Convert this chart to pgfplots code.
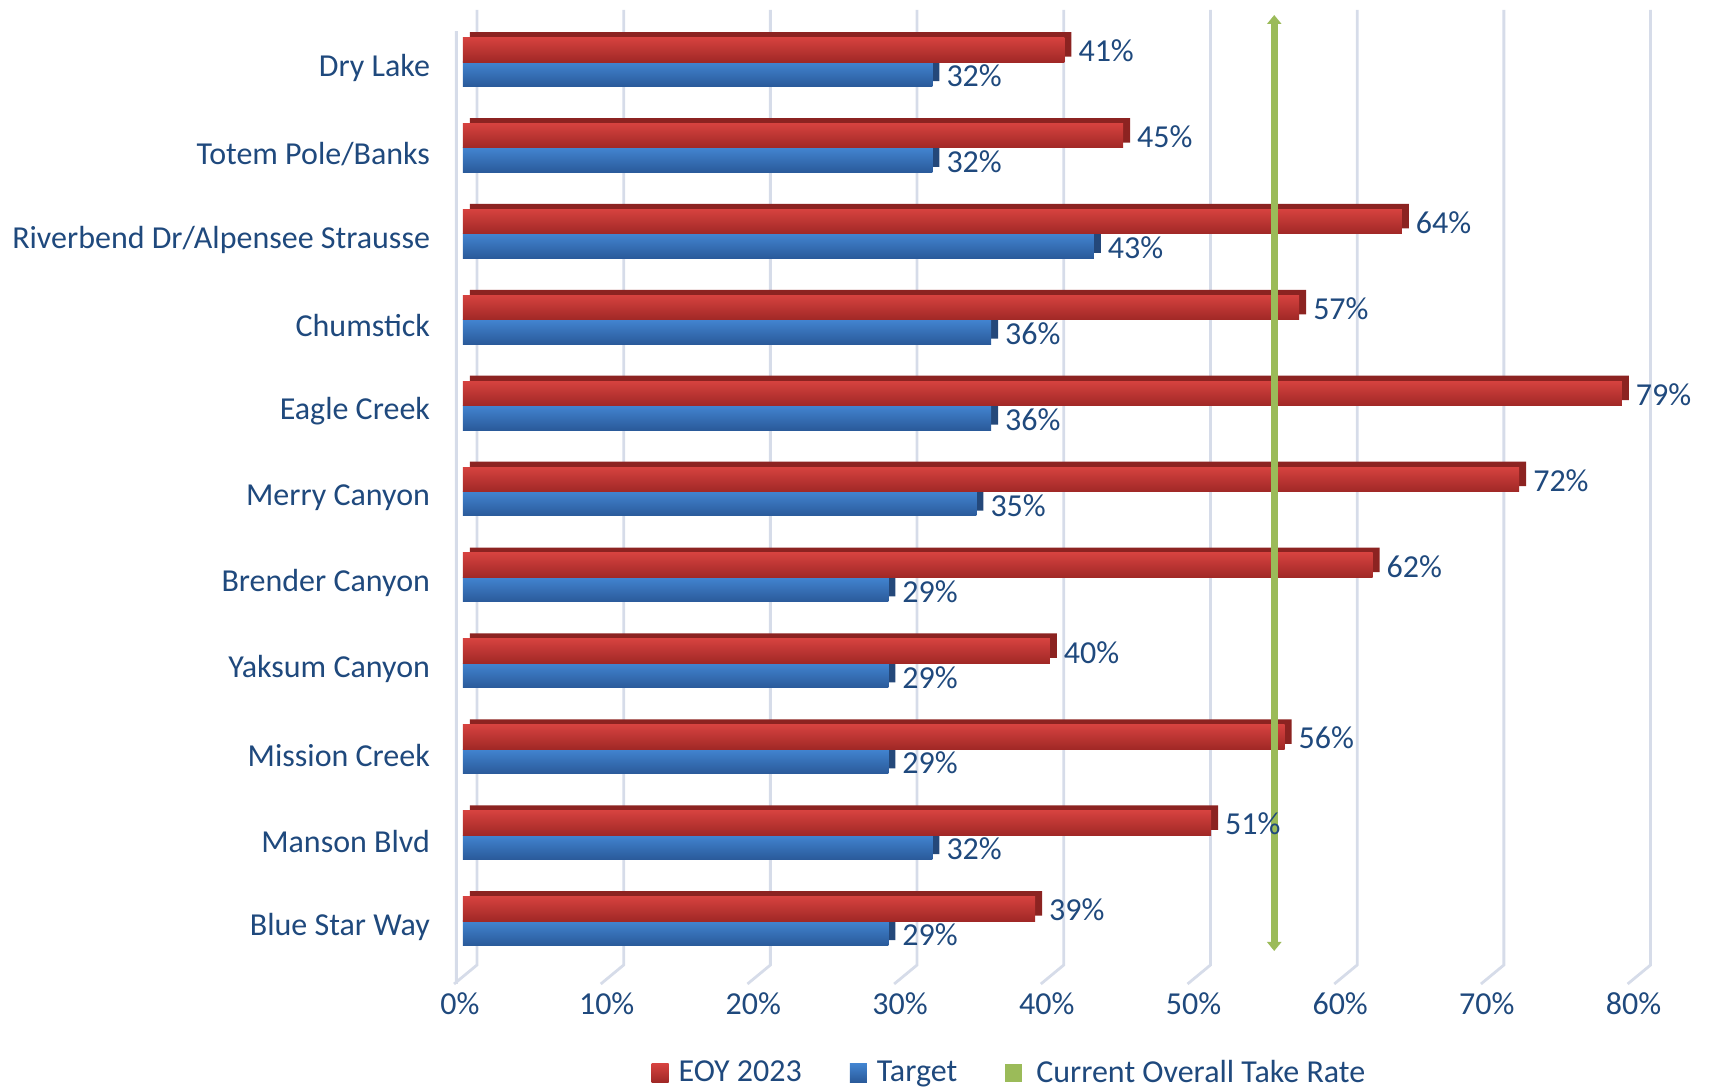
\documentclass[border=0pt]{standalone}
\usepackage{pgfplots}
\pgfplotsset{compat=1.18}
\usepackage{pgfplotstable}
\usepackage{fontspec}
\setmainfont{Carlito}
\usetikzlibrary{arrows.meta}

\definecolor{txt}{RGB}{31,73,125}
\definecolor{redtop}{RGB}{214,66,63}
\definecolor{redbot}{RGB}{160,40,38}
\definecolor{reddepth}{RGB}{140,35,33}
\definecolor{bluetop}{RGB}{66,132,208}
\definecolor{bluebot}{RGB}{42,90,154}
\definecolor{bluedepth}{RGB}{36,72,122}
\definecolor{gridc}{RGB}{214,220,233}
\definecolor{takegreen}{RGB}{155,187,89}

% k = 0 is the bottom row (Blue Star Way)
\pgfplotstableread{
k eoy target
0 39 29
1 51 32
2 56 29
3 40 29
4 62 29
5 72 35
6 79 36
7 57 36
8 64 43
9 45 32
10 41 32
}\rates

\newcommand{\lbl}{\fontsize{16}{19}\selectfont}

\begin{document}
\begin{tikzpicture}
\path[use as bounding box] (0,0) rectangle (854.5pt,544pt);
\begin{axis}[
    at={(231.5pt,61.5pt)}, anchor=south west,
    scale only axis,
    width=586.8pt, height=477.5pt,
    xmin=0, xmax=80,
    ymin=-0.512, ymax=10.605,
    clip=false,
    axis line style={draw=none},
    major tick length=0pt,
    /pgf/number format/assume math mode=true,
    xtick={0,10,...,80},
    xticklabels={0\%,10\%,20\%,30\%,40\%,50\%,60\%,70\%,80\%},
    ytick={0,...,10},
    yticklabels={Blue Star Way, Manson Blvd, Mission Creek, Yaksum Canyon,
        Brender Canyon, Merry Canyon, Eagle Creek, Chumstick,
        Riverbend Dr/Alpensee Strausse, Totem Pole/Banks, Dry Lake},
    ticklabel style={font=\lbl, text=txt},
    xticklabel style={anchor=center, yshift=-19.3pt, xshift=-1.5pt},
    yticklabel style={anchor=east, xshift=-13pt, yshift=-3pt},
    legend style={
        at={(0.4665,-0.113)}, anchor=center,
        draw=none, fill=none,
        legend columns=3,
        font=\lbl, text=txt,
        /tikz/every even column/.append style={column sep=22pt}
    },
]

% back wall grid lines with the floor edge
\addplot[gridc, line width=1.4pt, unbounded coords=jump, forget plot] coordinates {
    (0.954,10.605) (0.954,-0.512) (-0.61,-0.733) (0,nan)
    (10.954,10.605) (10.954,-0.512) (9.39,-0.733) (0,nan)
    (20.954,10.605) (20.954,-0.512) (19.39,-0.733) (0,nan)
    (30.954,10.605) (30.954,-0.512) (29.39,-0.733) (0,nan)
    (40.954,10.605) (40.954,-0.512) (39.39,-0.733) (0,nan)
    (50.954,10.605) (50.954,-0.512) (49.39,-0.733) (0,nan)
    (60.954,10.605) (60.954,-0.512) (59.39,-0.733) (0,nan)
    (70.954,10.605) (70.954,-0.512) (69.39,-0.733) (0,nan)
    (80.954,10.605) (80.954,-0.512) (79.39,-0.733) (0,nan)
    (-0.45,10.36) (-0.45,-0.733)
};

% depth faces
\addplot[xbar, bar width=12.25pt, bar shift=-6.1pt, fill=bluedepth, draw=none,
    xshift=3.5pt, yshift=2.7pt, forget plot] table[x=target, y=k] {\rates};
\addplot[xbar, bar width=12.25pt, bar shift=6.1pt, fill=reddepth, draw=none,
    xshift=3.5pt, yshift=2.7pt, forget plot] table[x=eoy, y=k] {\rates};

% front faces, one bar per plot so that each bar gets its own shading
\pgfplotsinvokeforeach{0,...,10}{
\addplot[xbar, bar width=12.25pt, bar shift=-6.1pt, draw=none,
    top color=bluetop, bottom color=bluebot,
    restrict y to domain=#1:#1,
    point meta=x,
    nodes near coords={\pgfmathprintnumber{\pgfplotspointmeta}\%},
    every node near coord/.append style={font=\lbl, text=txt, anchor=west,
        xshift=3.5pt, yshift=-7pt},
    forget plot] table[x=target, y=k] {\rates};
\addplot[xbar, bar width=12.25pt, bar shift=6.1pt, draw=none,
    top color=redtop, bottom color=redbot,
    restrict y to domain=#1:#1,
    point meta=x,
    nodes near coords={\pgfmathprintnumber{\pgfplotspointmeta}\%},
    every node near coord/.append style={font=\lbl, text=txt, anchor=west,
        xshift=3.5pt, yshift=5.5pt},
    forget plot] table[x=eoy, y=k] {\rates};
}

% current overall take rate
\addplot[takegreen, line width=3.3pt,
    {Triangle[width=7pt,length=4.5pt]}-{Triangle[width=7pt,length=4.5pt]},
    forget plot] coordinates {(55.3,-0.349) (55.3,10.547)};

\addlegendimage{draw=none, legend image code/.code={
    \path[draw=none, fill=none] (0pt,0pt) -- (11.5pt,0pt);
    \shade[draw=none, top color=redtop, bottom color=redbot] (0pt,-4.6pt) rectangle (8.5pt,4.6pt);}}
\addlegendentry{EOY 2023}
\addlegendimage{draw=none, legend image code/.code={
    \path[draw=none, fill=none] (0pt,0pt) -- (11.5pt,0pt);
    \shade[draw=none, top color=bluetop, bottom color=bluebot] (0pt,-4.6pt) rectangle (8.5pt,4.6pt);}}
\addlegendentry{Target}
\addlegendimage{draw=none, legend image code/.code={
    \path[draw=none, fill=none] (0pt,0pt) -- (13.5pt,0pt);
    \fill[draw=none, takegreen] (0pt,-4.6pt) rectangle (8.5pt,4.6pt);}}
\addlegendentry{Current Overall Take Rate}

\end{axis}
\end{tikzpicture}
\end{document}
